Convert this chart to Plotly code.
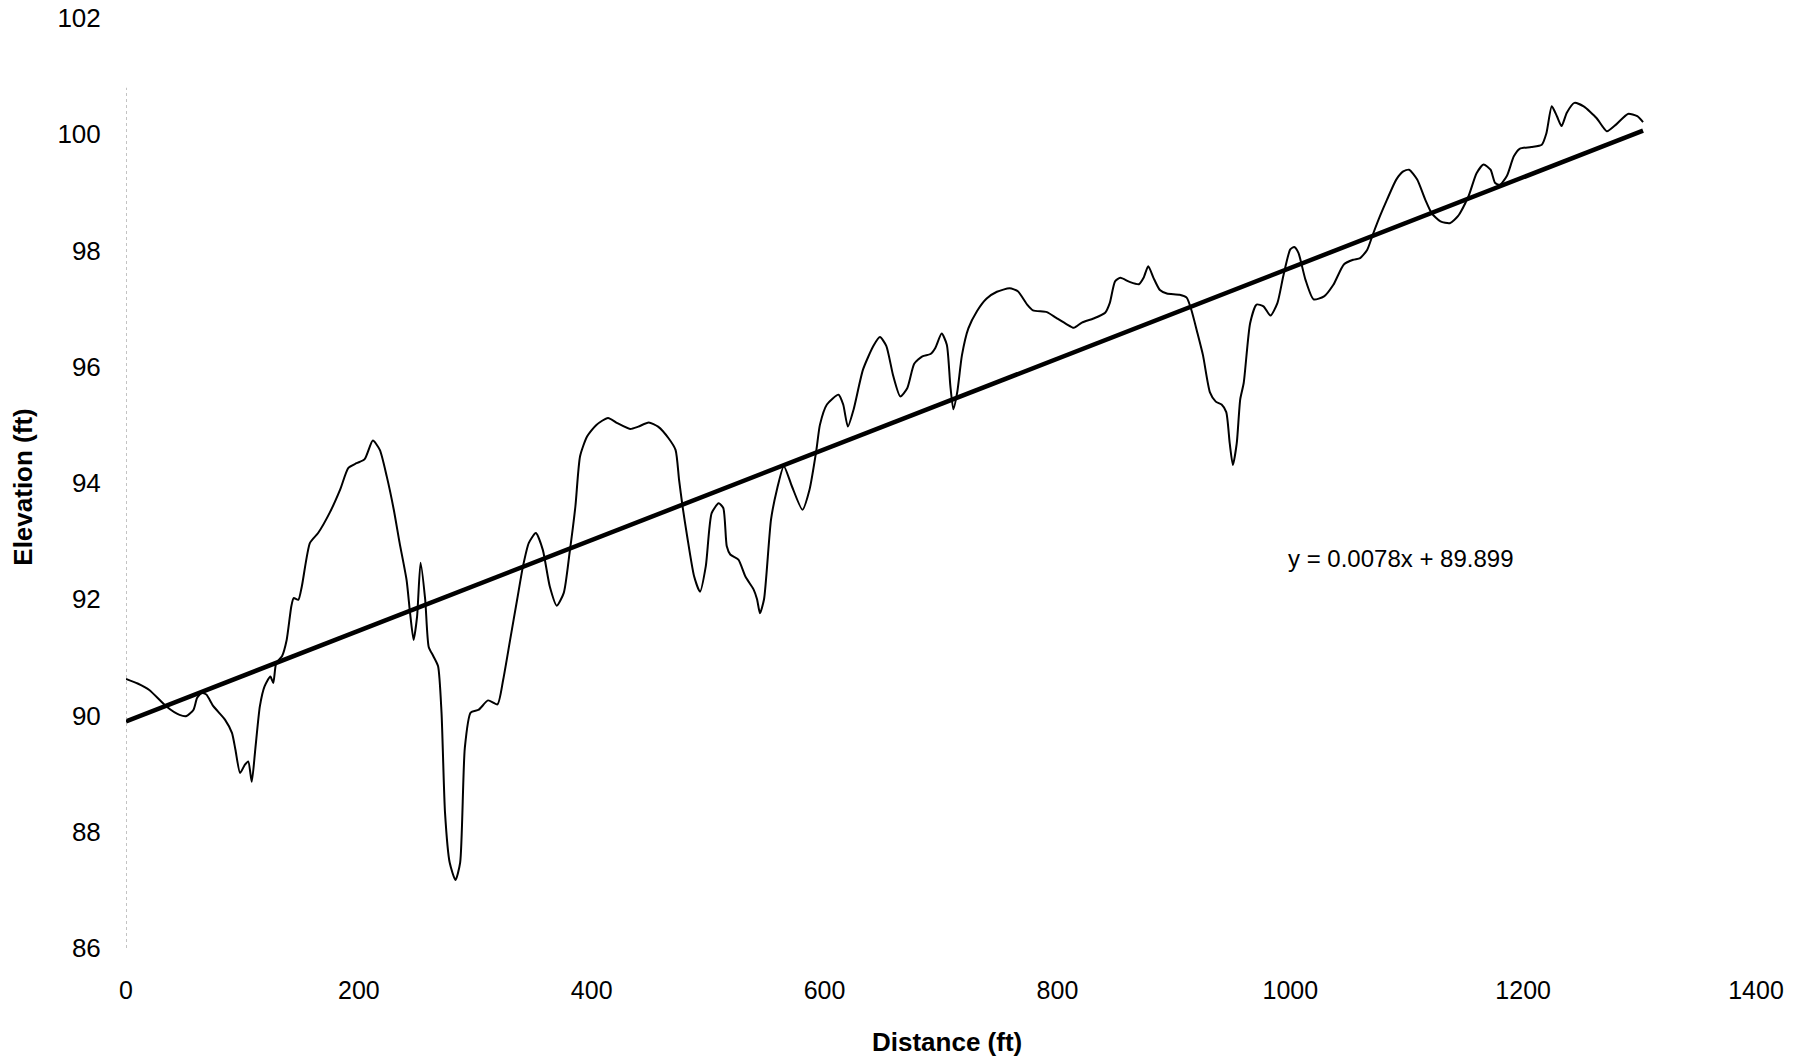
import plotly.graph_objects as go

# Surveyed profile (distance in ft, elevation in ft)
distance_ft = [0, 10, 20, 35, 46, 52, 58, 61, 65, 69, 75, 85, 91, 94, 98, 102, 105, 108, 111, 115,
               119, 124, 126.5, 129, 134, 138, 142, 144, 148, 151, 158, 165, 175, 184, 191, 198, 205,
               212, 218, 224, 230, 235, 241, 244, 247, 250, 253, 257, 260, 264, 268, 271, 274, 278,
               283, 287, 291, 296, 303, 311, 319, 324, 330, 336, 341, 346, 352, 358, 364, 370, 376,
               381, 386, 390, 396, 404, 414, 422, 433, 440, 449, 457, 466, 472, 475, 478, 482, 488,
               493, 498, 503, 509, 513, 516, 519, 526, 532, 539, 542, 544.5, 548, 554, 559, 565, 572,
               581, 587, 593, 596, 602, 612, 616, 620, 625, 633, 642, 647.6, 653, 659, 665, 671, 677,
               684, 691, 695, 700.6, 705, 708, 710.6, 714, 718, 723.5, 731, 739, 748, 759, 766, 774,
               779, 791, 799, 808, 814, 821, 831, 841, 845, 849.5, 854, 862, 870, 874, 878, 882.5,
               888, 894, 905, 911, 915, 920, 925, 931, 936, 941, 945, 948, 950.7, 954, 957, 960,
               965.5, 971, 977, 983, 989, 994, 1000, 1003.4, 1007, 1013, 1020, 1029, 1037, 1046,
               1054, 1060, 1066, 1071, 1077, 1083, 1091, 1097, 1102, 1109, 1116, 1121.5, 1129, 1137,
               1144, 1153, 1160, 1166, 1172, 1176, 1180, 1186, 1192, 1197, 1207, 1216, 1220, 1224.6,
               1229, 1233, 1237.5, 1244, 1252, 1263, 1268, 1272, 1280, 1290, 1298, 1303]
elevation_ft = [90.63, 90.55, 90.44, 90.15, 90.01, 89.99, 90.10, 90.30, 90.39, 90.36, 90.16, 89.93,
                89.70, 89.41, 89.01, 89.15, 89.21, 88.86, 89.41, 90.16, 90.50, 90.67, 90.56, 90.90,
                91.02, 91.30, 91.88, 92.02, 91.99, 92.22, 92.97, 93.14, 93.49, 93.89, 94.26, 94.34,
                94.41, 94.73, 94.57, 94.11, 93.54, 92.97, 92.33, 91.76, 91.30, 91.70, 92.63, 91.99,
                91.18, 91.02, 90.85, 90.05, 88.33, 87.47, 87.17, 87.47, 89.44, 90.05, 90.10, 90.26,
                90.19, 90.62, 91.31, 92.00, 92.57, 92.97, 93.14, 92.85, 92.22, 91.89, 92.11, 92.80,
                93.60, 94.46, 94.80, 95.00, 95.12, 95.03, 94.93, 94.97, 95.04, 94.97, 94.77, 94.57,
                94.06, 93.60, 93.08, 92.39, 92.13, 92.57, 93.48, 93.65, 93.57, 92.91, 92.77, 92.68,
                92.39, 92.17, 92.00, 91.76, 92.00, 93.37, 93.88, 94.29, 93.94, 93.54, 93.88, 94.57,
                95.00, 95.35, 95.52, 95.35, 94.97, 95.27, 95.95, 96.36, 96.51, 96.36, 95.84, 95.49,
                95.63, 96.05, 96.18, 96.22, 96.32, 96.57, 96.38, 95.68, 95.27, 95.57, 96.20, 96.66,
                96.96, 97.17, 97.29, 97.35, 97.30, 97.07, 96.97, 96.94, 96.84, 96.73, 96.67, 96.76,
                96.83, 96.93, 97.10, 97.47, 97.53, 97.46, 97.42, 97.53, 97.73, 97.53, 97.32, 97.26,
                97.24, 97.19, 96.98, 96.60, 96.20, 95.56, 95.40, 95.35, 95.22, 94.68, 94.31, 94.68,
                95.44, 95.72, 96.75, 97.07, 97.04, 96.88, 97.10, 97.56, 98.02, 98.06, 97.96, 97.50,
                97.16, 97.21, 97.41, 97.76, 97.84, 97.87, 98.01, 98.28, 98.59, 98.87, 99.22, 99.36,
                99.39, 99.22, 98.87, 98.64, 98.50, 98.47, 98.59, 98.93, 99.33, 99.48, 99.39, 99.16,
                99.13, 99.28, 99.62, 99.75, 99.78, 99.82, 100.02, 100.48, 100.31, 100.14, 100.37,
                100.54, 100.48, 100.28, 100.14, 100.05, 100.17, 100.35, 100.31, 100.21]

# Linear trendline reported on the chart
TREND_SLOPE = 0.0078
TREND_INTERCEPT = 89.899
trend_label = "y = 0.0078x + 89.899"

x_ticks = [0, 200, 400, 600, 800, 1000, 1200, 1400]
y_ticks = [86, 88, 90, 92, 94, 96, 98, 100, 102]

trend_x = [min(distance_ft), max(distance_ft)]
trend_y = [TREND_SLOPE * v + TREND_INTERCEPT for v in trend_x]

FONT = "Arial, 'Liberation Sans', sans-serif"

fig = go.Figure()
fig.add_trace(go.Scatter(x=distance_ft, y=elevation_ft, mode="lines",
                         line=dict(color="black", width=2, shape="spline", smoothing=0.6),
                         showlegend=False, hoverinfo="x+y"))
fig.add_trace(go.Scatter(x=trend_x, y=trend_y, mode="lines",
                         line=dict(color="black", width=4.5),
                         showlegend=False, hoverinfo="skip"))

fig.update_layout(
    width=1809, height=1060,
    margin=dict(l=126, r=53, t=18, b=112, autoexpand=False),
    paper_bgcolor="white", plot_bgcolor="white",
    font=dict(family=FONT, color="black"),
    xaxis=dict(range=[0, 1400], tickvals=x_ticks, ticktext=[str(v) for v in x_ticks],
               showgrid=False, zeroline=False, showline=False, automargin=False,
               ticks="outside", ticklen=20, tickcolor="rgba(0,0,0,0)",
               tickfont=dict(size=25, family=FONT)),
    yaxis=dict(range=[86, 102], tickvals=y_ticks, ticktext=[str(v) for v in y_ticks],
               showgrid=False, zeroline=False, showline=False, automargin=False,
               ticks="outside", ticklen=19, tickcolor="rgba(0,0,0,0)",
               tickfont=dict(size=26, family=FONT)),
    shapes=[dict(type="line", xref="x", yref="y", x0=0, x1=0, y0=86, y1=100.8,
                 line=dict(color="#888888", width=1, dash="dot"))],
    annotations=[
        dict(text="<b>Distance (ft)</b>", xref="paper", yref="paper", x=0.5037, y=-0.101,
             xanchor="center", yanchor="middle", showarrow=False,
             font=dict(size=26, family=FONT)),
        dict(text="<b>Elevation (ft)</b>", xref="paper", yref="paper", x=-0.0632, y=0.496,
             xanchor="center", yanchor="middle", textangle=-90, showarrow=False,
             font=dict(size=26, family=FONT)),
        dict(text=trend_label, xref="x", yref="y", x=1095, y=92.70,
             xanchor="center", yanchor="middle", showarrow=False,
             font=dict(size=24, family=FONT)),
    ],
)

fig.write_html("out.html")
